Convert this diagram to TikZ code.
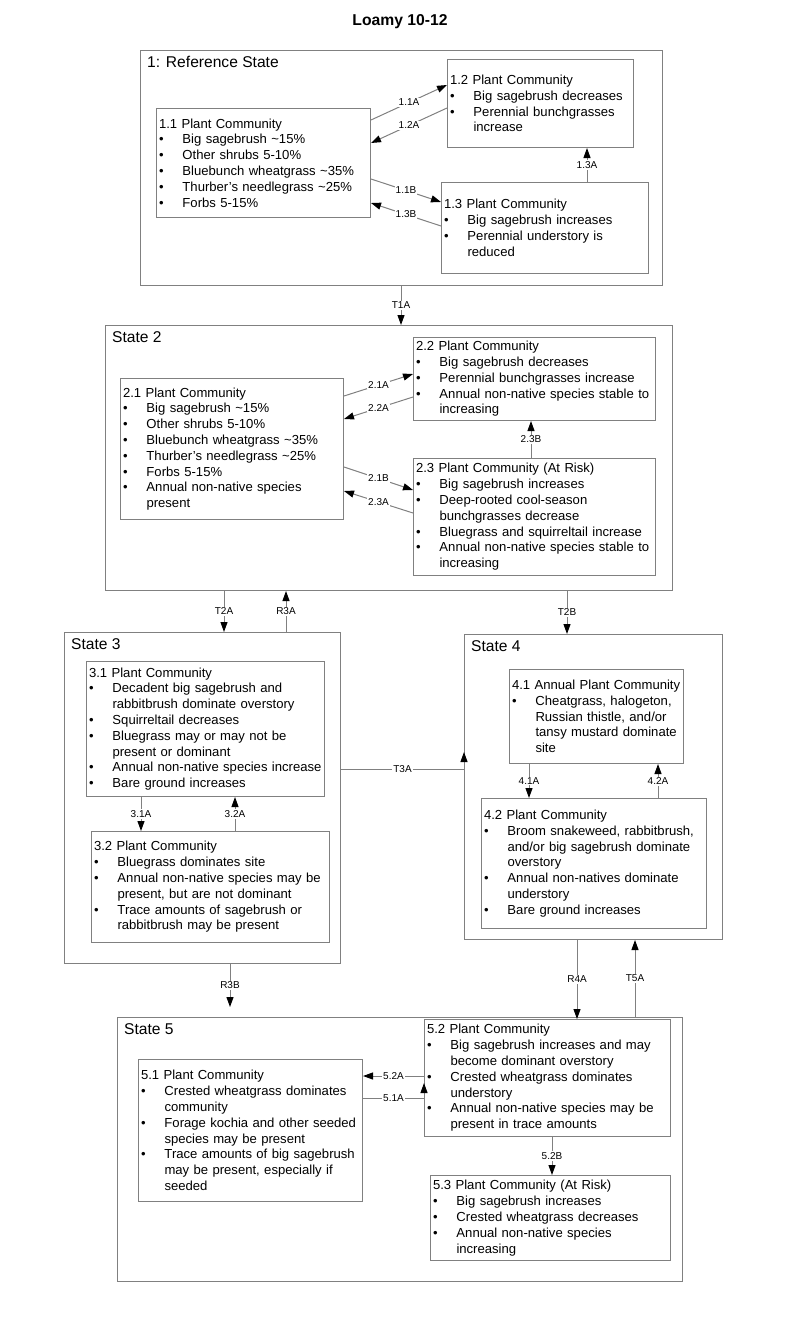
\documentclass[tikz,border=0pt]{standalone}
\usepackage{fontspec}
\setmainfont{Liberation Sans}
\usetikzlibrary{arrows.meta,calc}
\definecolor{lngray}{HTML}{808080}
\newcommand{\bodyfont}{\fontsize{13.1}{15.8}\selectfont}
\newcommand{\itm}[1]{\\\mbox{\makebox[23.5pt][l]{\textbullet}#1}}
\newcommand{\cnt}[1]{\\\mbox{\hspace*{23.5pt}#1}}
% community box: name, left, top, right, bottom, text
\newcommand{\pcbox}[6]{%
  \pgfmathsetmacro\mbw{#4-#2-5}\pgfmathsetmacro\mbh{#5-#3}%
  \node[pc,text width=\mbw pt,minimum height=\mbh pt] (#1) at (#2,#3) {#6};}
% state box: name, left, top, right, bottom, title
\newcommand{\stbox}[6]{%
  \pgfmathsetmacro\mbw{#4-#2}\pgfmathsetmacro\mbh{#5-#3}%
  \node[statebox,minimum width=\mbw pt,minimum height=\mbh pt] (#1) at (#2,#3) {};
  \node[sttitle] (#1t) at ([xshift=7pt,yshift=-12pt]#1.north west) {#6};}
\begin{document}
\begin{tikzpicture}[x=1pt,y=-1pt,
  pc/.style={draw=lngray,line width=1pt,fill=white,anchor=north west,inner xsep=2.5pt,inner ysep=0pt,align=left,font=\bodyfont},
  statebox/.style={draw=lngray,line width=1pt,anchor=north west,inner sep=0pt},
  sttitle/.style={anchor=west,inner sep=0pt,font=\fontsize{15.6}{18}\selectfont},
  arr/.style={draw=lngray,line width=1pt,-{Triangle[length=10pt,width=7pt,color=black]}},
  lbl/.style={fill=white,inner sep=1pt,font=\fontsize{10}{12}\selectfont}]
\useasboundingbox (0,0) rectangle (800,1317);
\node[font=\bfseries\fontsize{15.7}{18}\selectfont] (title) at (400,22) {Loamy 10-12};
% states
\stbox{s1}{140}{50}{662}{285}{1: Reference State}
\stbox{s2}{105}{325}{672}{590}{State 2}
\stbox{s3}{64}{632}{340}{963}{State 3}
\stbox{s4}{464}{634}{722}{939}{State 4}
\stbox{s5}{117}{1017}{682}{1281}{State 5}
% state 1
\pcbox{c11}{156}{108}{370}{217}{1.1 Plant Community\itm{Big sagebrush \textasciitilde15\%}\itm{Other shrubs 5-10\%}\itm{Bluebunch wheatgrass \textasciitilde35\%}\itm{Thurber’s needlegrass \textasciitilde25\%}\itm{Forbs 5-15\%}}
\pcbox{c12}{447}{59}{633}{147}{1.2 Plant Community\itm{Big sagebrush decreases}\itm{Perennial bunchgrasses}\cnt{increase}}
\pcbox{c13}{441}{182}{648}{273}{1.3 Plant Community\itm{Big sagebrush increases}\itm{Perennial understory is}\cnt{reduced}}
% state 2
\pcbox{c21}{120}{378}{343}{519}{2.1 Plant Community\itm{Big sagebrush \textasciitilde15\%}\itm{Other shrubs 5-10\%}\itm{Bluebunch wheatgrass \textasciitilde35\%}\itm{Thurber's needlegrass \textasciitilde25\%}\itm{Forbs 5-15\%}\itm{Annual non-native species}\cnt{present}}
\pcbox{c22}{413}{337}{655}{420}{2.2 Plant Community\itm{Big sagebrush decreases}\itm{Perennial bunchgrasses increase}\itm{Annual non-native species stable to}\cnt{increasing}}
\pcbox{c23}{413}{458}{655}{575}{2.3 Plant Community (At Risk)\itm{Big sagebrush increases}\itm{Deep-rooted cool-season}\cnt{bunchgrasses decrease}\itm{Bluegrass and squirreltail increase}\itm{Annual non-native species stable to}\cnt{increasing}}
% state 3
\pcbox{c31}{86}{661}{324}{796}{3.1 Plant Community\itm{Decadent big sagebrush and}\cnt{rabbitbrush dominate overstory}\itm{Squirreltail decreases}\itm{Bluegrass may or may not be}\cnt{present or dominant}\itm{Annual non-native species increase}\itm{Bare ground increases}}
\pcbox{c32}{91}{831}{329}{942}{3.2 Plant Community\itm{Bluegrass dominates site}\itm{Annual non-native species may be}\cnt{present, but are not dominant}\itm{Trace amounts of sagebrush or}\cnt{rabbitbrush may be present}}
% state 4
\pcbox{c41}{509}{669}{683}{763}{4.1 Annual Plant Community\itm{Cheatgrass, halogeton,}\cnt{Russian thistle, and/or}\cnt{tansy mustard dominate}\cnt{site}}
\pcbox{c42}{481}{798}{706}{928}{4.2 Plant Community\itm{Broom snakeweed, rabbitbrush,}\cnt{and/or big sagebrush dominate}\cnt{overstory}\itm{Annual non-natives dominate}\cnt{understory}\itm{Bare ground increases}}
% state 5
\pcbox{c52}{424}{1019}{670}{1136}{5.2 Plant Community\itm{Big sagebrush increases and may}\cnt{become dominant overstory}\itm{Crested wheatgrass dominates}\cnt{understory}\itm{Annual non-native species may be}\cnt{present in trace amounts}}
\pcbox{c51}{138}{1059}{362}{1201}{5.1 Plant Community\itm{Crested wheatgrass dominates}\cnt{community}\itm{Forage kochia and other seeded}\cnt{species may be present}\itm{Trace amounts of big sagebrush}\cnt{may be present, especially if}\cnt{seeded}}
\pcbox{c53}{430}{1175}{670}{1260}{5.3 Plant Community (At Risk)\itm{Big sagebrush increases}\itm{Crested wheatgrass decreases}\itm{Annual non-native species}\cnt{increasing}}
% pathways between side by side boxes
\draw[arr] ([yshift=-12pt]c11.north east) -- node[lbl]{1.1A} ([yshift=-26pt]c12.north west);
\draw[arr] ([yshift=-49pt]c12.north west) -- node[lbl]{1.2A} ([yshift=-35pt]c11.north east);
\draw[arr] ([yshift=-71pt]c11.north east) -- node[lbl]{1.1B} ([yshift=-20pt]c13.north west);
\draw[arr] ([yshift=-44pt]c13.north west) -- node[lbl]{1.3B} ([yshift=-95pt]c11.north east);
\draw[arr] ([yshift=-18pt]c21.north east) -- node[lbl]{2.1A} ([yshift=-37pt]c22.north west);
\draw[arr] ([yshift=-60pt]c22.north west) -- node[lbl]{2.2A} ([yshift=-41pt]c21.north east);
\draw[arr] ([yshift=-89pt]c21.north east) -- node[lbl]{2.1B} ([yshift=-32pt]c23.north west);
\draw[arr] ([yshift=-55pt]c23.north west) -- node[lbl]{2.3A} ([yshift=-113pt]c21.north east);
% upward pathways
\foreach \mfrom/\mto/\dx/\mname in {c13/c12/146/1.3A,c23/c22/118/2.3B,c32/c31/144/3.2A,c42/c41/177/4.2A,s3/s2/222/R3A,s5/s4/518/T5A}
  \draw[arr] ([xshift=\dx pt]\mfrom.north west) -- node[lbl]{\mname} ([xshift=\dx pt]\mfrom.north west |- \mto.south);
% downward pathways
\foreach \mfrom/\mto/\dx/\mname in {c31/c32/55/3.1A,c41/c42/20/4.1A,c52/c53/128/5.2B,s1/s2/261/T1A,s2/s3/119/T2A,s2/s4/462/T2B,s4/c52/113/R4A}
  \draw[arr] ([xshift=\dx pt]\mfrom.south west) -- node[lbl]{\mname} ([xshift=\dx pt]\mfrom.south west |- \mto.north);
\draw[arr] ([xshift=166pt]s3.south west) -- node[lbl]{R3B} ([xshift=166pt,yshift=10pt]s3.south west |- s5.north);
% elbow pathways
\coordinate (t3a) at ([yshift=-137pt]s3.north east);
\coordinate (t3b) at (t3a -| s4.west);
\draw[arr] (t3a) -- node[lbl]{T3A} (t3b) -- ([yshift=17pt]t3b);
\draw[arr] ([yshift=-57pt]c52.north west) -- node[lbl]{5.2A} ([yshift=-57pt]c52.north west -| c51.east);
\coordinate (a51) at ([yshift=-39pt]c51.north east);
\coordinate (b51) at (a51 -| c52.west);
\draw[arr] (a51) -- node[lbl]{5.1A} (b51) -- ([yshift=15pt]b51);
\end{tikzpicture}
\end{document}
